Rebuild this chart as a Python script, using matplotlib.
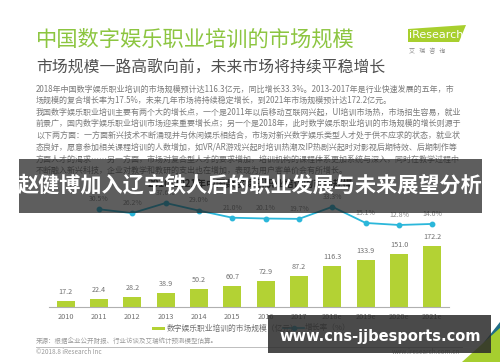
import matplotlib
matplotlib.use('Agg')
import matplotlib.pyplot as plt
from matplotlib.patches import Rectangle, Polygon
from matplotlib.lines import Line2D

plt.rcParams['font.family'] = ['Noto Sans CJK SC', 'DejaVu Sans']

# ---------------- data ----------------
years = ['2010', '2011', '2012', '2013', '2014', '2015', '2016', '2017',
         '2018e', '2019e', '2020e', '2021e']
market_size = [17.2, 22.4, 28.2, 38.9, 50.2, 60.7, 72.9, 87.2, 116.3, 133.9, 151.0, 172.2]
growth_rate = [30.5, 26.2, 37.6, 29.0, 21.0, 20.1, 19.7, 33.3, 15.1, 12.8, 14.0]
growth_idx = list(range(1, 12))

title = '中国数字娱乐职业培训的市场规模'
subtitle = '市场规模一路高歌向前，未来市场将持续平稳增长'
paragraph = [
    '2018年中国数字娱乐职业培训的市场规模预计达116.3亿元，同比增长33.3%。2013-2017年是行业快速发展的五年，市',
    '场规模的复合增长率为17.5%，未来几年市场将持续稳定增长，到2021年市场规模预计达172.2亿元。',
    '我国数字娱乐职业培训主要有两个大的增长点，一个是2011年以后移动互联网兴起，UI培训市场热，市场招生容易，就业',
    '前景广，国内数字娱乐职业培训市场迎来重要增长点；另一个是2018年，此时数字娱乐职业培训的市场规模的增长则源于',
    '以下两方面：一方面新兴技术不断涌现并与休闲娱乐相结合，市场对新兴数字娱乐类型人才处于供不应求的状态，就业状',
    '态良好，愿意参加相关课程培训的人数增加，如VR/AR游戏兴起时培训热潮及IP热剧兴起时对影视后期特效、后期制作等',
    '方面人才的渴求……另一方面，市场对复合型人才的要求增加，培训机构的课程体系更加系统与深入，同时在教学过程中',
    '不断融入新兴科技，企业对教学和教研的支出也在增加，表现为用户客单价会有所增长。',
]
chart_title = '2010-2021年中国数字娱乐职业培训的市场规模'
legend_bar = '数字娱乐职业培训的市场规模（亿元）'
legend_line = '增长率（%）'
source = '来源：根据企业公开财报、行业访谈及艾瑞统计预测模型估算。'
copyright_txt = '©2018.8 iResearch Inc'
site_txt = 'www.iresearch.com.cn'
page_no = '17'
overlay_title = '赵健博加入辽宁铁人后的职业发展与未来展望分析'
watermark = 'www.cns-jjbesports.com'

# ---------------- layout helpers ----------------
W, H = 500, 362
fig = plt.figure(figsize=(5, 3.62), dpi=100)
fig.patch.set_facecolor('white')


def fx(x):
    return x / W


def fy(y):
    return 1 - y / H


def rect(x0, y0, x1, y1):
    return [x0 / W, 1 - y1 / H, (x1 - x0) / W, (y1 - y0) / H]


BAR_C = '#b3d234'
LINE_C = '#2bb7da'
GREEN_T = '#8cc540'

# header
fig.text(fx(36), fy(40), title, fontsize=15.3, color=GREEN_T, va='center', ha='left')
fig.text(fx(36), fy(68), subtitle, fontsize=11.4, color='#505050', va='center', ha='left')

# iResearch logo
fig.patches.append(Polygon([(fx(408), fy(42)), (fx(408), fy(29)), (fx(466), fy(25)), (fx(459), fy(42))],
                           closed=True, transform=fig.transFigure, facecolor='#a8cf2e',
                           edgecolor='none', zorder=2))
fig.text(fx(408.5), fy(35), 'iResearch', fontsize=8, color='white', va='center', ha='left',
         family='DejaVu Sans', zorder=3)
fig.text(fx(409), fy(51), '艾   瑞   咨   询', fontsize=4.3, color='#888888', va='center', ha='left')

# paragraph
para_y = [89, 100.7, 112.5, 123.8, 135, 146.7, 159, 170.5]
for yy, line in zip(para_y, paragraph):
    fig.text(fx(36), fy(yy), line, fontsize=5.75, color='#7a7a7a', va='center', ha='left')

fig.text(fx(250), fy(184), chart_title, fontsize=7, color='#333333', va='center',
         ha='center', weight='bold')

# ---------------- bars ----------------
ax = fig.add_axes(rect(49, 226, 449, 307))
x = list(range(len(years)))
ax.bar(x, market_size, width=0.54, color=BAR_C, zorder=2)
ax.set_xlim(-0.5, len(years) - 0.5)
ax.set_ylim(0, 228.7)
for i, v in zip(x, market_size):
    ax.annotate(f'{v:.1f}', (i, v), xytext=(0, 6.3), textcoords='offset points',
                ha='center', va='center', fontsize=5.2, color='#707070')
for s in ['top', 'right', 'left']:
    ax.spines[s].set_visible(False)
ax.spines['bottom'].set_color('#b0b0b0')
ax.spines['bottom'].set_linewidth(0.8)
ax.set_yticks([])
ax.set_xticks(x)
ax.set_xticklabels(years, fontsize=5.3, color='#707070')
ax.tick_params(axis='x', length=0, pad=4.2)
ax.patch.set_alpha(0)

# ---------------- growth line ----------------
ax2 = fig.add_axes(rect(49, 195, 449, 230))
ax2.plot(growth_idx, growth_rate, color=LINE_C, lw=1.3, marker='o', ms=3.2, zorder=3)
ax2.set_xlim(-0.5, len(years) - 0.5)
ax2.set_ylim(7.16, 46.6)
for i, v in zip(growth_idx, growth_rate):
    ax2.annotate(f'{v:.1f}%', (i, v), xytext=(0, 7.3), textcoords='offset points',
                 ha='center', va='center', fontsize=5, color='#8a8a8a')
ax2.axis('off')
ax2.patch.set_alpha(0)

# legend (manual)
fig.patches.append(Rectangle((fx(152), fy(330)), 13 / W, 3.5 / H, transform=fig.transFigure,
                             facecolor=BAR_C, edgecolor='none', zorder=2))
fig.text(fx(167), fy(328.3), legend_bar, fontsize=5.6, color='#707070', va='center', ha='left')
fig.lines.append(Line2D([fx(283), fx(304)], [fy(328.3), fy(328.3)], transform=fig.transFigure,
                        color=LINE_C, lw=1.2, zorder=2))
fig.lines.append(Line2D([fx(293.5)], [fy(328.3)], transform=fig.transFigure, color=LINE_C,
                        marker='o', ms=3, zorder=2))
fig.text(fx(305), fy(328.3), legend_line, fontsize=5.6, color='#707070', va='center', ha='left')

# footer
fig.text(fx(36), fy(341), source, fontsize=4.7, color='#9a9a9a', va='center', ha='left')
fig.lines.append(Line2D([fx(36), fx(462)], [fy(347.3), fy(347.3)], transform=fig.transFigure,
                        color='#bdbdbd', lw=0.7, zorder=2))
fig.text(fx(36), fy(352.5), copyright_txt, fontsize=4.6, color='#9a9a9a', va='center', ha='left')
fig.text(fx(460), fy(352.5), site_txt, fontsize=4.6, color='#9a9a9a', va='center', ha='right')
fig.text(fx(480), fy(351.5), page_no, fontsize=5, color='#9a9a9a', va='center', ha='left')

# corner triangles
fig.patches.append(Polygon([(fx(478), fy(350)), (fx(500), fy(322)), (fx(500), fy(350))], closed=True,
                           transform=fig.transFigure, facecolor='#1f6e86', edgecolor='none', zorder=4))
fig.patches.append(Polygon([(fx(462), fy(362)), (fx(500), fy(362)), (fx(500), fy(328))], closed=True,
                           transform=fig.transFigure, facecolor='#a6ce2f', edgecolor='none', zorder=5))

# ---------------- overlays ----------------
fig.patches.append(Rectangle((fx(19), fy(213)), (482 - 19) / W, (213 - 159) / H,
                             transform=fig.transFigure, facecolor='#1a1a1a', alpha=0.7,
                             edgecolor='none', zorder=10))
fig.text(fx(250.5), fy(185.5), overlay_title, fontsize=15.2, color='white', weight='bold',
         va='center', ha='center', zorder=11)

fig.patches.append(Rectangle((fx(268), fy(353)), (491 - 268) / W, (353 - 315) / H,
                             transform=fig.transFigure, facecolor='#2a2a2a', alpha=0.85,
                             edgecolor='none', zorder=10))
fig.text(fx(279), fy(336.5), watermark, fontsize=10.5, color='white', weight='bold',
         family='DejaVu Sans', va='center', ha='left', zorder=11)

fig.savefig('out.png', dpi=100)
